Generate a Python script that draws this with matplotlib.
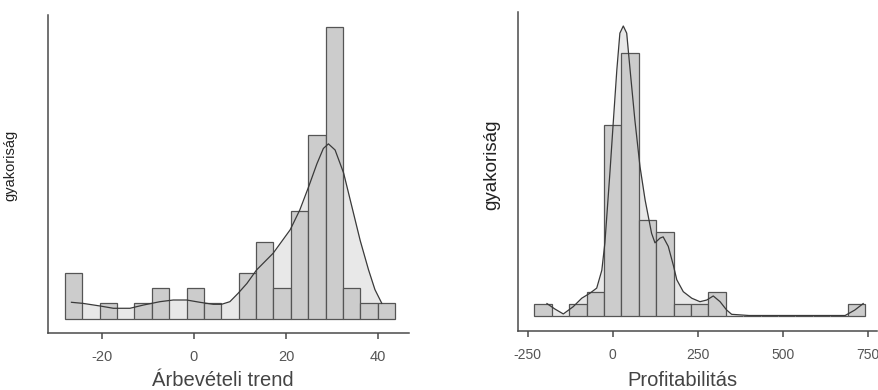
import numpy as np
import matplotlib.pyplot as plt

plt.rcParams['font.family'] = ['Liberation Sans', 'DejaVu Sans']

# Árbevételi trend: histogram counts (19 bins) and density curve (in count units)
trend_start = -28.04
trend_width = 3.776
trend_counts = [3, 0, 1, 0, 1, 2, 0, 2, 1, 0, 3, 5, 2, 7, 12, 19, 2, 1, 1]
trend_kde_x = [-26.6, -24.1, -20.4, -17.5, -13.9, -11.0, -7.4, -4.5, -1.6, 1.3,
               4.2, 6.0, 7.8, 9.6, 11.5, 13.6, 17.2, 20.9, 23.0, 24.9,
               26.7, 28.1, 29.2, 30.65, 32.5, 34.3, 36.1, 37.9, 39.3, 40.8]
trend_kde_y = [1.07, 1.0, 0.83, 0.68, 0.68, 0.89, 1.11, 1.22, 1.22, 1.07,
               0.94, 0.94, 1.11, 1.66, 2.3, 3.18, 4.27, 5.8, 7.1, 8.6,
               10.1, 11.1, 11.4, 11.0, 9.5, 7.3, 5.1, 3.2, 1.9, 1.0]
trend_ticks = [-20, 0, 20, 40]

# Profitabilitás
prof_start = -229.8
prof_width = 51.07
prof_counts = [1, 0, 1, 2, 16, 22, 8, 7, 1, 1, 2, 0, 0, 0, 0, 0, 0, 0, 1]
prof_kde_x = [-193, -170, -145, -116, -91, -67, -47, -32, -23, -16,
              -8, 2, 12, 21, 31, 41, 51, 65, 80, 95,
              114, 124, 139, 148, 163, 178, 188, 207, 232, 256,
              276, 295, 315, 334, 349, 400, 500, 600, 682, 710, 735]
prof_kde_y = [1.0, 0.55, 0.13, 0.74, 1.45, 1.87, 2.3, 3.8, 6.1, 8.9,
              12.1, 16.4, 20.6, 23.7, 24.3, 23.7, 20.6, 16.4, 12.5, 9.7,
              6.9, 6.1, 6.5, 6.6, 5.8, 4.2, 3.0, 2.0, 1.45, 1.16,
              1.3, 1.64, 1.16, 0.47, 0.1, 0.0, 0.0, 0.0, 0.0, 0.45, 1.0]
prof_ticks = [-250, 0, 250, 500, 750]

BAR = '#cccccc'
EDGE = '#555555'
FILL = '#e8e8e8'
LINE = '#3a3a3a'
AXIS = '#4a4a4a'


def histkde(ax, start, width, counts, kx, ky):
    n = len(counts)
    lefts = start + width * np.arange(n)
    ax.fill_between(kx, 0, ky, color=FILL, lw=0, zorder=1)
    ax.bar(lefts, counts, width=width, align='edge', color=BAR,
           edgecolor=EDGE, linewidth=0.9, zorder=2)
    ax.plot(kx, ky, color=LINE, lw=0.9, zorder=3)


def style(ax, ticks, ticksize, pad):
    for s in ['top', 'right']:
        ax.spines[s].set_visible(False)
    for s in ['left', 'bottom']:
        ax.spines[s].set_color(AXIS)
        ax.spines[s].set_linewidth(1.1)
    ax.set_yticks([])
    ax.set_xticks(ticks)
    ax.set_xticklabels([str(t) for t in ticks])
    ax.tick_params(axis='x', length=4, width=1.1, color=AXIS,
                   labelsize=ticksize, labelcolor='#555555', pad=pad)


fig = plt.figure(figsize=(8.79, 3.9), dpi=100)

ax1 = fig.add_axes([0.0546, 0.1462, 0.4107, 0.8153])
histkde(ax1, trend_start, trend_width, trend_counts, trend_kde_x, trend_kde_y)
ax1.set_xlim(-31.7, 46.7)
ax1.set_ylim(-0.93, 19.8)
style(ax1, trend_ticks, 10.5, 8)
fig.text(223 / 879, 1 - 386 / 390, 'Árbevételi trend', ha='center',
         va='baseline', fontsize=14.5, color='#444444')
fig.text(10 / 879, 1 - 165 / 390, 'gyakoriság', rotation=90, ha='center',
         va='center', fontsize=10.5, color='#222222')

ax2 = fig.add_axes([0.589, 0.1513, 0.4087, 0.8187])
histkde(ax2, prof_start, prof_width, prof_counts, prof_kde_x, prof_kde_y)
ax2.set_xlim(-278.8, 775.5)
ax2.set_ylim(-1.3, 25.5)
style(ax2, prof_ticks, 10, 8)
fig.text(682 / 879, 1 - 386 / 390, 'Profitabilitás', ha='center',
         va='baseline', fontsize=14.5, color='#444444')
fig.text(492 / 879, 1 - 165 / 390, 'gyakoriság', rotation=90, ha='center',
         va='center', fontsize=13.5, color='#222222')

fig.savefig('out.png', dpi=100)
